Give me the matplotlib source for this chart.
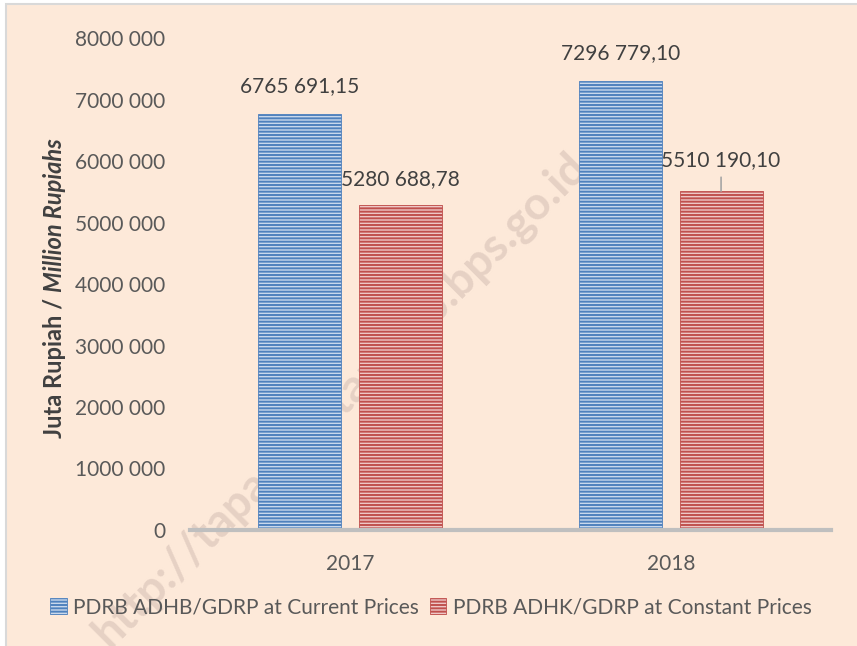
import matplotlib
matplotlib.use("Agg")
import matplotlib.pyplot as plt
from matplotlib.patches import Rectangle
import numpy as np

years = ["2017", "2018"]
current_prices = [6765691.15, 7296779.10]
constant_prices = [5280688.78, 5510190.10]
current_labels = ["6765 691,15", "7296 779,10"]
constant_labels = ["5280 688,78", "5510 190,10"]
series_names = ["PDRB ADHB/GDRP at Current Prices", "PDRB ADHK/GDRP at Constant Prices"]
y_ticks = [0, 1000000, 2000000, 3000000, 4000000, 5000000, 6000000, 7000000, 8000000]
y_ticklabels = ["0", "1000 000", "2000 000", "3000 000", "4000 000",
                "5000 000", "6000 000", "7000 000", "8000 000"]

W, H = 857, 646
bg = "#FDE9D9"
txt = "#595959"
plt.rcParams["font.family"] = ["Lato", "DejaVu Sans"]
plt.rcParams["hatch.linewidth"] = 1.4

fig = plt.figure(figsize=(W / 100, H / 100), dpi=100, facecolor="white")
frame = Rectangle((6 / W, -0.1), 1.2, 1.1 - 4 / H, transform=fig.transFigure,
                  facecolor=bg, edgecolor="#D9D9D9", linewidth=1.5, zorder=-5)
fig.patches.append(frame)

ax = fig.add_axes([190 / W, 1 - 530 / H, (831 - 190) / W, (530 - 38) / H])
ax.set_facecolor("none")

# watermark, behind the bars
ax.text(340 / W, 1 - 400 / H, "http://tapanuliutarakab.bps.go.id", rotation=45,
        transform=fig.transFigure, ha="center", va="center", fontsize=33,
        fontweight="bold", color="#E6D1C4", zorder=1, clip_on=False)

x = np.arange(len(years))
off, bw = 0.157, 0.259
b1 = ax.bar(x - off, current_prices, bw, facecolor="#C9D8EC", edgecolor="#4F81BD",
            hatch="-----", linewidth=0.6, label=series_names[0], zorder=2)
b2 = ax.bar(x + off, constant_prices, bw, facecolor="#EEC7C6", edgecolor="#C0504D",
            hatch="-----", linewidth=0.6, label=series_names[1], zorder=2)

for xi, v, lab in zip(x - off, current_prices, current_labels):
    ax.annotate(lab, (xi, v), xytext=(0, 20), textcoords="offset points",
                ha="center", va="center", fontsize=15, color="#404040")
for i, (xi, v, lab) in enumerate(zip(x + off, constant_prices, constant_labels)):
    dy = 19 if i == 0 else 22
    ax.annotate(lab, (xi, v), xytext=(0, dy), textcoords="offset points",
                ha="center", va="center", fontsize=15, color="#404040")
# leader line for the 2018 constant-price label
ax.annotate("", (x[1] + off, constant_prices[1]), xytext=(0, 10), textcoords="offset points",
            arrowprops=dict(arrowstyle="-", color="#A6A6A6", lw=1.2, shrinkA=0, shrinkB=0))

ax.set_xlim(-0.5, 1.5)
ax.set_ylim(0, 8000000)
ax.set_xticks(x)
ax.set_xticklabels(years, fontsize=15, color=txt)
ax.set_yticks(y_ticks)
ax.set_yticklabels(y_ticklabels, fontsize=15, color=txt)
ax.tick_params(length=0)
ax.tick_params(axis="y", pad=18)
ax.tick_params(axis="x", pad=17)
for s in ["top", "right", "left"]:
    ax.spines[s].set_visible(False)
ax.spines["bottom"].set_color("#BFBFBF")
ax.spines["bottom"].set_linewidth(3)
ax.spines["bottom"].set_zorder(3)

# y label: regular bold part + bold italic part
fig.canvas.draw()
t1 = fig.text(55 / W, 1 - 438 / H, "Juta Rupiah / ", rotation=90, ha="center", va="bottom",
              fontsize=17, fontweight="bold", color="#404040")
fig.canvas.draw()
ext = t1.get_window_extent()
fig.text(55 / W, ext.y1 / H, "Million Rupiahs", rotation=90, ha="center", va="bottom",
         fontsize=17, fontweight="bold", fontstyle="italic", color="#404040")

leg = fig.legend(handles=[b1, b2], loc="center", bbox_to_anchor=(431 / W, 1 - 607 / H),
                 ncol=2, frameon=False, fontsize=15, handlelength=0.8, handleheight=0.8,
                 handletextpad=0.3, columnspacing=0.5, labelcolor=txt)

fig.savefig("out.png", dpi=100, facecolor="white")
